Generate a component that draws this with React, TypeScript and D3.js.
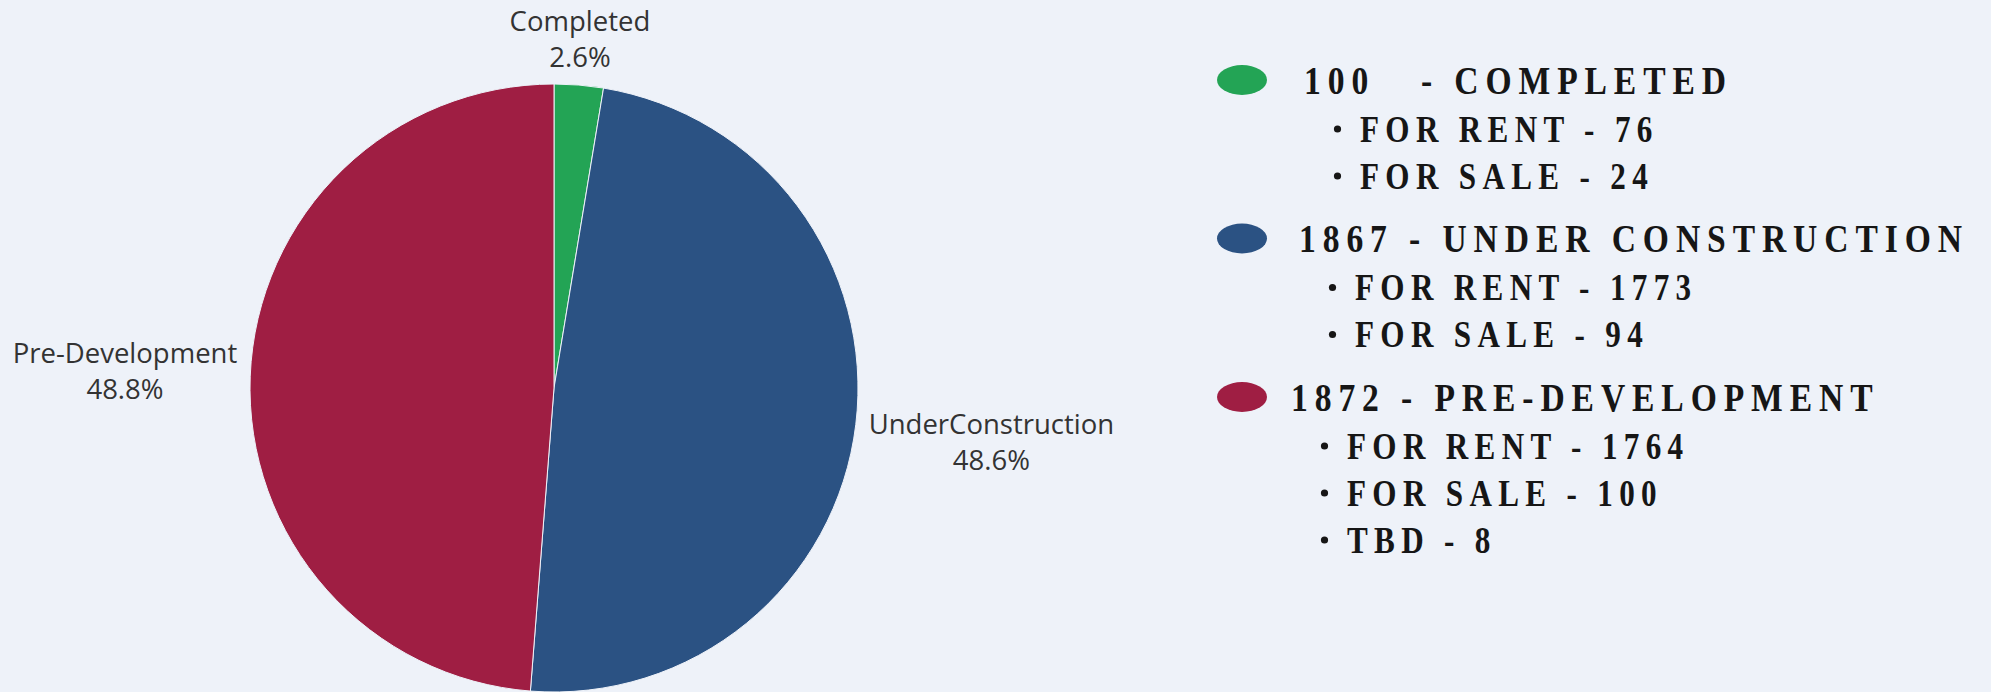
import React, { useEffect, useRef } from "react";
import * as d3 from "d3";

const categories = ["Completed", "UnderConstruction", "Pre-Development"];
const values = [100, 1867, 1872];
const colors = ["#23A455", "#2B5283", "#9F1E43"];
const legendTitles = ["COMPLETED", "UNDER CONSTRUCTION", "PRE-DEVELOPMENT"];
const legendTotals = ["100  ", "1867", "1872"];
const subLabels = [
  ["FOR RENT", "FOR SALE"],
  ["FOR RENT", "FOR SALE"],
  ["FOR RENT", "FOR SALE", "TBD"],
];
const subValues = [
  [76, 24],
  [1773, 94],
  [1764, 100, 8],
];

const W = 1991;
const H = 692;

export default function App() {
  const ref = useRef<SVGSVGElement | null>(null);

  useEffect(() => {
    const svg = d3.select(ref.current);
    svg.selectAll("*").remove();
    svg.append("rect").attr("width", W).attr("height", H).attr("fill", "#EEF2F9");

    const cx = 554;
    const cy = 388;
    const r = 304;
    const total = d3.sum(values);
    const pie = d3.pie<number>().sort(null).value((d) => d);
    const arcs = pie(values);
    const arc = d3.arc<d3.PieArcDatum<number>>().innerRadius(0).outerRadius(r);

    const g = svg.append("g").attr("transform", `translate(${cx},${cy})`);
    g.selectAll("path")
      .data(arcs)
      .join("path")
      .attr("d", arc)
      .attr("fill", (_, i) => colors[i])
      .attr("stroke", "#EEF2F9")
      .attr("stroke-width", 1);

    // data labels
    const fs = 27.5;
    const lh = 36;
    const capOff = fs * 0.357;
    const labelR = r + 13;
    arcs.forEach((a, i) => {
      const mid = (a.startAngle + a.endAngle) / 2;
      const px = Math.sin(mid) * labelR;
      const py = -Math.cos(mid) * labelR;
      const pct = d3.format(".1f")((values[i] / total) * 100) + "%";
      const lg = g.append("g");
      const t1 = lg
        .append("text")
        .text(categories[i])
        .attr("font-family", "'Open Sans', sans-serif")
        .attr("font-size", fs)
        .attr("fill", "#333")
        .attr("text-anchor", "middle");
      const t2 = lg
        .append("text")
        .text(pct)
        .attr("font-family", "'Open Sans', sans-serif")
        .attr("font-size", fs)
        .attr("fill", "#333")
        .attr("text-anchor", "middle");
      const w = (t1.node() as SVGTextElement).getComputedTextLength();
      let x = px;
      let c1 = py;
      if (Math.abs(px) < 60) {
        // top label: block sits above the point
        c1 = py - 15 - lh;
        x = px;
      } else if (px > 0) {
        x = px + w / 2;
        c1 = py - 2;
      } else {
        x = px - w / 2;
        c1 = py - 5 - lh / 2;
      }
      t1.attr("x", x).attr("y", c1 + capOff);
      t2.attr("x", x).attr("y", c1 + lh + capOff);
    });

    // legend
    const lgx = 1242;
    const font = "'Liberation Serif', 'Times New Roman', serif";
    const sx = 0.82;
    const headShift = [0, -5, -13];
    let yc = 80;
    legendTitles.forEach((title, i) => {
      const shift = headShift[i];
      svg
        .append("ellipse")
        .attr("cx", lgx)
        .attr("cy", yc)
        .attr("rx", 25)
        .attr("ry", 15)
        .attr("fill", colors[i]);
      svg
        .append("g")
        .attr("transform", `translate(${1304 + shift},${yc + 13.5}) scale(${sx},1)`)
        .append("text")
        .attr("font-family", font)
        .attr("font-weight", "bold")
        .attr("font-size", 41)
        .attr("letter-spacing", 8.4)
        .attr("fill", "#161616")
        .style("white-space", "pre")
        .text(`${legendTotals[i]} - ${title}`);
      subLabels[i].forEach((lab, j) => {
        const syc = yc + 49 + j * 47;
        svg
          .append("circle")
          .attr("cx", 1337.5 + shift)
          .attr("cy", syc)
          .attr("r", 3.6)
          .attr("fill", "#161616");
        svg
          .append("g")
          .attr("transform", `translate(${1360 + shift},${syc + 12.5}) scale(${sx},1)`)
          .append("text")
          .attr("font-family", font)
          .attr("font-weight", "bold")
          .attr("font-size", 38)
          .attr("letter-spacing", 7.7)
          .attr("fill", "#161616")
          .style("white-space", "pre")
          .text(`${lab} - ${subValues[i][j]}`);
      });
      yc += 49 + (subLabels[i].length - 1) * 47 + 62.5;
    });
  }, []);

  return (
    <svg
      ref={ref}
      width={W}
      height={H}
      style={{ position: "absolute", left: 0, top: 0, display: "block" }}
    />
  );
}
